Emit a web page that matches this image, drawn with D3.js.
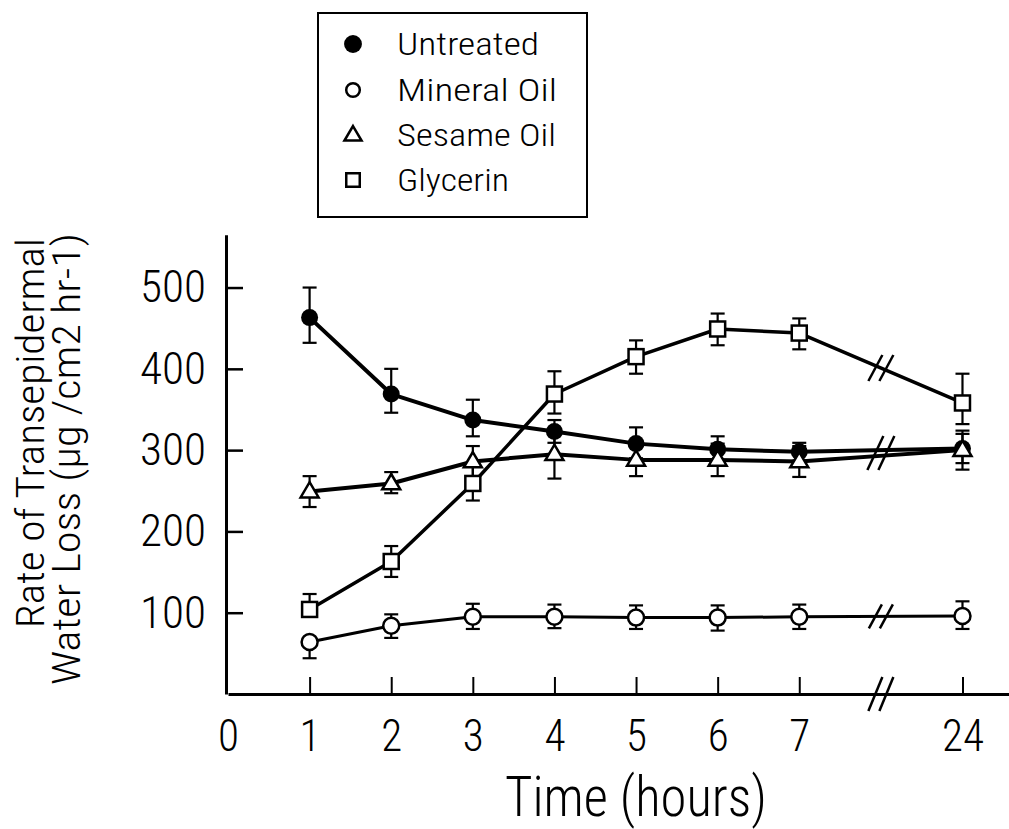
<!DOCTYPE html>
<html><head><meta charset="utf-8">
<script src="https://cdn.jsdelivr.net/npm/d3@7"></script>
<style>body{margin:0;background:#fff} svg{display:block}</style>
</head><body>
<svg id="chart" width="1009" height="829"></svg>
<script>
// ---------- data ----------
const hours = [1, 2, 3, 4, 5, 6, 7, 24];
const xTickHours = [0, 1, 2, 3, 4, 5, 6, 7, 24];
const xTickPositions = [0, 1, 2, 3, 4, 5, 6, 7, 9];   // 24 h drawn after an axis break
const yTicks = [100, 200, 300, 400, 500];
const seriesNames = ["Untreated", "Mineral Oil", "Sesame Oil", "Glycerin"];

const untreated       = [463, 369, 337, 323, 308, 301, 298, 302];
const untreatedErrUp  = [37, 31, 25, 14, 20, 16, 11, 18];
const untreatedErrDn  = [31, 23, 20, 14, 18, 16, 11, 18];

const mineralOil      = [64, 84, 95, 95, 94, 94, 95, 96];
const mineralOilErrUp = [0, 14, 16, 15, 15, 15, 15, 18];
const mineralOilErrDn = [20, 15, 15, 14, 14, 16, 15, 16];

const sesameOil       = [249, 259, 286, 295, 288, 288, 286, 300];
const sesameOilErrUp  = [19, 14, 19, 30, 20, 20, 19, 24];
const sesameOilErrDn  = [19, 12, 19, 30, 20, 20, 19, 24];

const glycerin        = [104, 163, 259, 369, 415, 449, 444, 358];
const glycerinErrUp   = [19, 19, 21, 28, 20, 19, 18, 36];
const glycerinErrDn   = [0, 19, 21, 24, 21, 20, 20, 26];

const xTitle = "Time (hours)";
const yTitle1 = "Rate of Transepidermal";
const yTitle2 = "Water Loss (\u03BCg /cm2 hr-1)";

// ---------- setup ----------
const FONT = "'Roboto Condensed',Roboto,'Liberation Sans',Arial,sans-serif";
const FW = 300;
const svg = d3.select("#chart");
const x = d3.scaleLinear().domain([0, 9.57]).range([228, 1009]);
const y = d3.scaleLinear().domain([0, 565]).range([694, 234.7]);
const posOf = h => xTickPositions[xTickHours.indexOf(h)];

const series = [
  {name: seriesNames[0], v: untreated, up: untreatedErrUp, dn: untreatedErrDn, sym: "filled", lw: 4},
  {name: seriesNames[1], v: mineralOil, up: mineralOilErrUp, dn: mineralOilErrDn, sym: "circle", lw: 3},
  {name: seriesNames[2], v: sesameOil, up: sesameOilErrUp, dn: sesameOilErrDn, sym: "triangle", lw: 4},
  {name: seriesNames[3], v: glycerin, up: glycerinErrUp, dn: glycerinErrDn, sym: "square", lw: 3.5}
];

function styleText(sel, size) {
  sel.attr("font-size", size).attr("font-family", FONT).attr("font-weight", FW).attr("fill", "#000");
}

// ---------- axes ----------
const xAxis = svg.append("g").attr("transform", "translate(0,694)")
  .call(d3.axisBottom(x).tickValues(xTickPositions)
    .tickFormat((d, i) => xTickHours[i]).tickSize(-17).tickSizeOuter(0).tickPadding(25));
xAxis.select(".domain").attr("stroke-width", 3);
xAxis.selectAll(".tick line").attr("stroke-width", 2).filter(d => d === 0).remove();
xAxis.selectAll(".tick text").call(styleText, 45)
  .each(function () { const t = this.textContent; d3.select(this).attr("textLength", 21 * t.length).attr("lengthAdjust", "spacingAndGlyphs"); });

const yAxis = svg.append("g").attr("transform", "translate(226,0)")
  .call(d3.axisLeft(y).tickValues(yTicks).tickSize(-17).tickSizeOuter(0).tickPadding(20));
yAxis.select(".domain").attr("stroke-width", 3);
yAxis.selectAll(".tick line").attr("stroke-width", 2.5);
yAxis.selectAll(".tick text").call(styleText, 45)
  .each(function () { const t = this.textContent; d3.select(this).attr("textLength", 22 * t.length).attr("lengthAdjust", "spacingAndGlyphs"); });

// break marks helper
function breakMark(cx, cy, h, w) {
  const g = svg.append("g");
  [-5.5, 5.5].forEach(dx => {
    g.append("line")
      .attr("x1", cx + dx - w / 2).attr("y1", cy + h / 2)
      .attr("x2", cx + dx + w / 2).attr("y2", cy - h / 2)
      .attr("stroke", "#000").attr("stroke-width", 2.5);
  });
}
breakMark(x(8), 694, 34, 14);

// ---------- series ----------
const line = d3.line().x((d, i) => x(posOf(hours[i]))).y(d => y(d));
series.forEach(s => {
  svg.append("path").datum(s.v).attr("d", line)
    .attr("fill", "none").attr("stroke", "#000").attr("stroke-width", s.lw)
    .attr("stroke-linejoin", "round");
});

// break marks on the lines (between 7 h and 24 h)
const mid = arr => (arr[6] + arr[7]) / 2;
breakMark(x(8), y(mid(glycerin)), 26, 14);
breakMark(x(8), y(mid(mineralOil)), 24, 13);
breakMark(x(8), y((mid(untreated) + mid(sesameOil)) / 2), 34, 16);

// error bars
series.forEach(s => {
  const g = svg.append("g").attr("stroke", "#000").attr("stroke-width", 2.2);
  s.v.forEach((v, i) => {
    const cx = x(posOf(hours[i]));
    if (s.up[i] > 0) {
      g.append("line").attr("x1", cx).attr("x2", cx).attr("y1", y(v)).attr("y2", y(v + s.up[i]));
      g.append("line").attr("x1", cx - 7).attr("x2", cx + 7).attr("y1", y(v + s.up[i])).attr("y2", y(v + s.up[i]));
    }
    if (s.dn[i] > 0) {
      g.append("line").attr("x1", cx).attr("x2", cx).attr("y1", y(v)).attr("y2", y(v - s.dn[i]));
      g.append("line").attr("x1", cx - 7).attr("x2", cx + 7).attr("y1", y(v - s.dn[i])).attr("y2", y(v - s.dn[i]));
    }
  });
});

// markers
function marker(g, sym, cx, cy, scale) {
  scale = scale || 1;
  if (sym === "filled") {
    g.append("circle").attr("cx", cx).attr("cy", cy).attr("r", 8.5 * scale).attr("fill", "#000");
  } else if (sym === "circle") {
    g.append("circle").attr("cx", cx).attr("cy", cy).attr("r", 8 * scale)
      .attr("fill", "#fff").attr("stroke", "#000").attr("stroke-width", 2.5);
  } else if (sym === "triangle") {
    const a = 9 * scale;
    g.append("path").attr("d", `M${cx},${cy - a * 1.05}L${cx + a},${cy + a * 0.65}L${cx - a},${cy + a * 0.65}Z`)
      .attr("fill", "#fff").attr("stroke", "#000").attr("stroke-width", 2.5).attr("stroke-linejoin", "miter");
  } else if (sym === "square") {
    const a = 7.5 * scale;
    g.append("rect").attr("x", cx - a).attr("y", cy - a).attr("width", 2 * a).attr("height", 2 * a)
      .attr("fill", "#fff").attr("stroke", "#000").attr("stroke-width", 2.5);
  }
}
series.forEach(s => {
  const g = svg.append("g");
  s.v.forEach((v, i) => marker(g, s.sym, x(posOf(hours[i])), y(v)));
});

// ---------- legend ----------
svg.append("rect").attr("x", 318).attr("y", 13).attr("width", 269).attr("height", 204)
  .attr("fill", "#fff").attr("stroke", "#000").attr("stroke-width", 2);
const legendRows = [44, 90, 135, 180];
const legendWidths = [142, 160, 159, 112];
const legendScale = [1.05, 0.85, 0.95, 0.9];
series.forEach((s, i) => {
  const g = svg.append("g");
  marker(g, s.sym, 353, legendRows[i], legendScale[i]);
  g.append("text").attr("x", 397).attr("y", legendRows[i] + 11)
    .call(styleText, 32)
    .attr("textLength", legendWidths[i]).attr("lengthAdjust", "spacingAndGlyphs")
    .text(s.name);
});

// ---------- titles ----------
svg.append("text").attr("x", 505).attr("y", 816)
  .call(styleText, 56)
  .attr("textLength", 262).attr("lengthAdjust", "spacingAndGlyphs").text(xTitle);

const yt = svg.append("g").attr("transform", "rotate(-90)");
yt.append("text").attr("x", -628).attr("y", 44)
  .call(styleText, 39)
  .attr("textLength", 390).attr("lengthAdjust", "spacingAndGlyphs").text(yTitle1);
yt.append("text").attr("x", -685).attr("y", 80)
  .call(styleText, 39)
  .attr("textLength", 452).attr("lengthAdjust", "spacingAndGlyphs").text(yTitle2);
</script>
</body></html>
